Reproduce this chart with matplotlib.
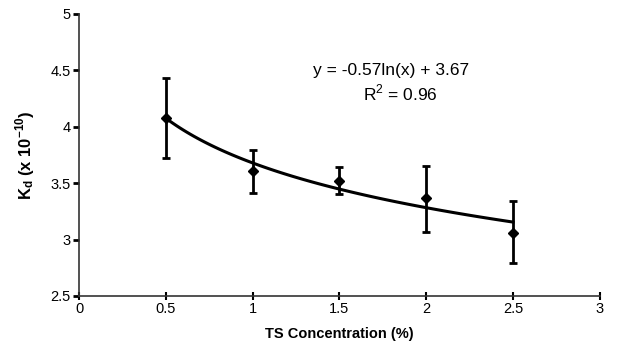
import matplotlib
matplotlib.use("Agg")
import matplotlib.pyplot as plt
import numpy as np

plt.rcParams['font.family'] = ['Liberation Sans', 'DejaVu Sans']
plt.rcParams['mathtext.fontset'] = 'custom'
plt.rcParams['mathtext.rm'] = 'Liberation Sans'
plt.rcParams['mathtext.bf'] = 'Liberation Sans:bold'

# datos
conc = [0.5, 1.0, 1.5, 2.0, 2.5]
kd = [4.08, 3.61, 3.52, 3.37, 3.06]
err_up = [0.35, 0.18, 0.12, 0.28, 0.28]
err_down = [0.36, 0.20, 0.12, 0.30, 0.27]

xticks = [0, 0.5, 1, 1.5, 2, 2.5, 3]
xtick_labels = ["0", "0.5", "1", "1.5", "2", "2.5", "3"]
yticks = [2.5, 3, 3.5, 4, 4.5, 5]
ytick_labels = ["2.5", "3", "3.5", "4", "4.5", "5"]

fig = plt.figure(figsize=(6.29, 3.47), dpi=100)
ax = fig.add_axes([0.1256, 0.147, 0.828, 0.813])

# tendencia logarítmica
coeff = np.polyfit(np.log(conc), kd, 1)
xs = np.linspace(min(conc), max(conc), 100)
ax.plot(xs, coeff[0] * np.log(xs) + coeff[1], color='black', lw=2.2)

ax.errorbar(conc, kd, yerr=[err_down, err_up], fmt='D', color='black',
            ms=5, elinewidth=2, capsize=3, capthick=2)

ax.set_xlim(0, 3)
ax.set_ylim(2.5, 5)
ax.set_xticks(xticks)
ax.set_xticklabels(xtick_labels)
ax.set_yticks(yticks)
ax.set_yticklabels(ytick_labels)

for s in ['top', 'right']:
    ax.spines[s].set_visible(False)
for s in ['left', 'bottom']:
    ax.spines[s].set_color('#333333')
    ax.spines[s].set_linewidth(1.2)

ax.tick_params(axis='x', direction='inout', length=6, width=1.5, labelsize=10.5, pad=1)
ax.tick_params(axis='y', direction='out', length=4, width=2, labelsize=10.5, pad=2)

ax.set_xlabel("TS Concentration (%)", fontsize=10.5, fontweight='bold', labelpad=8)
ax.set_ylabel(r"$\mathbf{K_d}$ (x 10$^{\mathbf{-10}}$)", fontsize=12,
              fontweight='bold', labelpad=10)

ax.text(1.80, 4.50, "y = -0.57ln(x) + 3.67", fontsize=12.5, ha='center', va='center')
ax.text(1.85, 4.30, r"R$^{\rm 2}$ = 0.96", fontsize=12.5, ha='center', va='center')

fig.savefig("out.png", dpi=100)
